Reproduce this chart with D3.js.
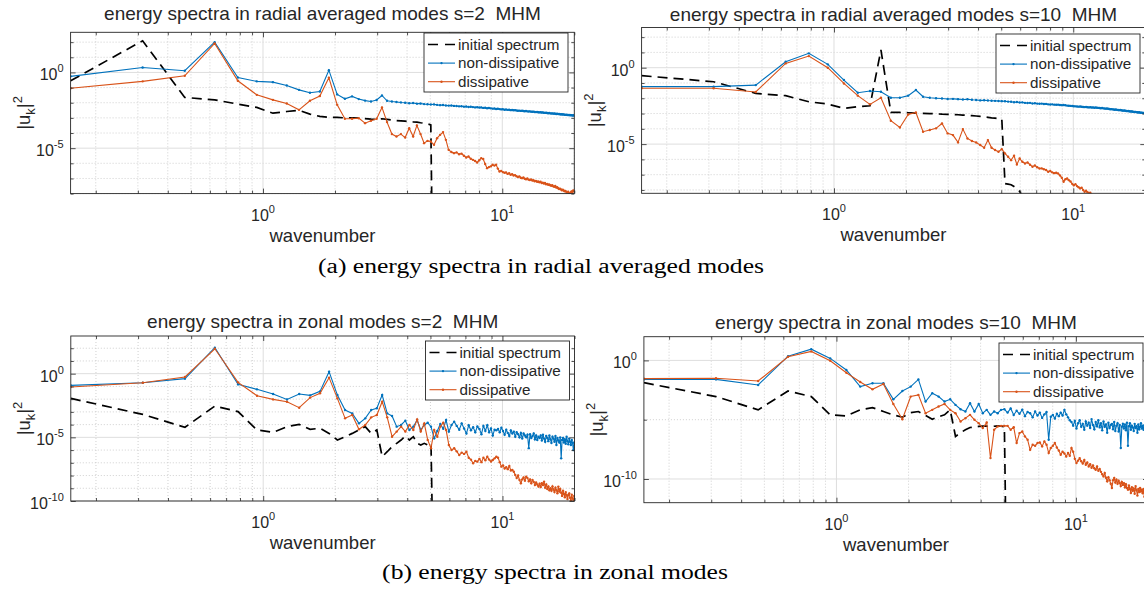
<!DOCTYPE html>
<html>
<head>
<meta charset="utf-8">
<script src="https://cdn.jsdelivr.net/npm/d3@7"></script>
<style>
  body { margin: 0; background: #fff; }
  svg { display: block; font-family: "Liberation Sans", Arial, sans-serif; }
  text { white-space: pre; }
</style>
</head>
<body>
<svg id="fig" width="1144" height="591"></svg>
<script>
// wavenumbers of the modes (same grid in all four panels)
var wavenumber = [
  0.157, 0.314, 0.471, 0.628, 0.785, 0.942, 1.100, 1.257, 1.414, 1.571,
  1.728, 1.885, 2.042, 2.199, 2.356, 2.513, 2.670, 2.827, 2.985, 3.142,
  3.299, 3.456, 3.613, 3.770, 3.927, 4.084, 4.241, 4.398, 4.555, 4.712,
  4.869, 5.027, 5.184, 5.341, 5.498, 5.655, 5.812, 5.969, 6.126, 6.283,
  6.440, 6.597, 6.754, 6.912, 7.069, 7.226, 7.383, 7.540, 7.697, 7.854,
  8.011, 8.168, 8.325, 8.482, 8.639, 8.796, 8.954, 9.111, 9.268, 9.425,
  9.582, 9.739, 9.896, 10.053, 10.210, 10.367, 10.524, 10.681, 10.838, 10.996,
  11.153, 11.310, 11.467, 11.624, 11.781, 11.938, 12.095, 12.252, 12.409, 12.566,
  12.723, 12.881, 13.038, 13.195, 13.352, 13.509, 13.666, 13.823, 13.980, 14.137,
  14.294, 14.451, 14.608, 14.765, 14.923, 15.080, 15.237, 15.394, 15.551, 15.708,
  15.865, 16.022, 16.179, 16.336, 16.493, 16.650, 16.808, 16.965, 17.122, 17.279,
  17.436, 17.593, 17.750, 17.907, 18.064, 18.221, 18.378, 18.535, 18.692, 18.850,
  19.007, 19.164, 19.321, 19.478, 19.635, 19.792, 19.949
];

// all |u_k|^2 values are stored as log10
var radialS2InitialLog = [
  -0.55, 2.09, -1.65, -1.81, -2.09, -2.31, -2.69, -2.58, -2.50, -2.75,
  -2.90, -2.97, -2.97, -3.00, -3.00, -3.02, -3.05, -3.08, -3.10, -3.06,
  -3.10, -3.15, -3.18, -3.20, -3.22, -3.25, -3.27, -3.28, -3.32, -3.35,
  -3.40, -3.46, -20
];
var radialS2NonDissLog = [
  -0.26, 0.33, 0.11, 2.00, -0.33, -0.59, -0.64, -0.86, -1.15, -1.34,
  -1.26, 0.15, -1.45, -1.74, -1.58, -1.76, -1.86, -1.92, -1.82, -1.52,
  -1.87, -1.92, -1.95, -1.98, -2.00, -2.03, -2.02, -2.06, -2.05, -2.09,
  -2.10, -2.12, -2.11, -2.14, -2.16, -2.15, -2.18, -2.19, -2.18, -2.21,
  -2.22, -2.24, -2.23, -2.26, -2.25, -2.28, -2.27, -2.29, -2.31, -2.30,
  -2.32, -2.31, -2.34, -2.33, -2.36, -2.35, -2.37, -2.39, -2.38, -2.41,
  -2.40, -2.42, -2.44, -2.43, -2.46, -2.45, -2.47, -2.46, -2.49, -2.48,
  -2.50, -2.49, -2.51, -2.53, -2.52, -2.54, -2.53, -2.55, -2.56, -2.55,
  -2.57, -2.58, -2.57, -2.59, -2.60, -2.59, -2.61, -2.62, -2.61, -2.63,
  -2.64, -2.63, -2.65, -2.64, -2.66, -2.67, -2.66, -2.68, -2.69, -2.68,
  -2.70, -2.71, -2.70, -2.72, -2.71, -2.73, -2.74, -2.73, -2.75, -2.74,
  -2.76, -2.77, -2.76, -2.78, -2.77, -2.79, -2.80, -2.79, -2.81, -2.80,
  -2.82, -2.81, -2.83, -2.82, -2.84, -2.83, -2.85
];
var radialS2DissLog = [
  -1.04, -0.59, -0.22, 1.92, -0.55, -1.48, -1.81, -2.05, -2.47, -1.87,
  -1.56, -0.35, -2.14, -3.06, -3.06, -3.02, -3.35, -3.19, -3.06, -2.31,
  -3.28, -4.07, -4.23, -4.07, -4.30, -3.68, -4.23, -3.50, -4.07, -4.67,
  -4.52, -4.56, -4.78, -4.34, -4.12, -3.94, -4.45, -5.11, -5.25, -5.33,
  -5.28, -5.40, -5.36, -5.50, -5.62, -5.55, -5.70, -5.77, -5.85, -5.95,
  -5.80, -5.66, -5.72, -6.05, -6.32, -6.25, -6.20, -6.10, -6.15, -6.10,
  -6.35, -6.54, -6.50, -6.58, -6.62, -6.60, -6.70, -6.66, -6.76, -6.72,
  -6.80, -6.78, -6.85, -6.90, -6.86, -6.95, -6.98, -6.94, -7.02, -7.05,
  -7.00, -7.08, -7.10, -7.06, -7.14, -7.12, -7.18, -7.16, -7.22, -7.20,
  -7.25, -7.22, -7.30, -7.28, -7.33, -7.30, -7.38, -7.36, -7.42, -7.40,
  -7.45, -7.48, -7.44, -7.52, -7.55, -7.50, -7.60, -7.58, -7.65, -7.70,
  -7.68, -7.72, -7.78, -7.75, -7.80, -7.85, -7.82, -7.90, -7.95, -7.88,
  -7.97, -8.02, -7.92, -7.85, -7.95, -7.80, -7.82
];

var radialS10InitialLog = [
  -0.52, -0.92, -1.68, -1.83, -2.23, -2.38, -2.66, -2.55, -2.49, 1.16,
  -2.93, -2.93, -2.95, -2.97, -2.99, -3.00, -3.02, -3.04, -3.05, -3.06,
  -3.08, -3.10, -3.12, -3.14, -3.16, -3.19, -3.22, -3.25, -3.28, -3.30,
  -3.33, -3.36, -7.58, -7.62, -7.66, -7.78, -7.90, -8.10, -8.40, -9.00
];
var radialS10NonDissLog = [
  -1.24, -1.24, -1.14, 0.39, 0.94, 0.22, -0.81, -1.64, -1.53, -1.57,
  -1.97, -1.97, -1.83, -1.46, -1.90, -1.97, -2.00, -2.02, -2.05, -2.04,
  -2.06, -2.08, -2.07, -2.10, -2.11, -2.14, -2.13, -2.15, -2.16, -2.17,
  -2.18, -2.19, -2.20, -2.22, -2.23, -2.26, -2.25, -2.28, -2.27, -2.30,
  -2.31, -2.30, -2.34, -2.33, -2.35, -2.36, -2.35, -2.38, -2.37, -2.40,
  -2.41, -2.40, -2.42, -2.43, -2.42, -2.44, -2.45, -2.44, -2.46, -2.48,
  -2.49, -2.50, -2.51, -2.52, -2.53, -2.54, -2.55, -2.54, -2.56, -2.57,
  -2.58, -2.57, -2.59, -2.60, -2.59, -2.61, -2.60, -2.62, -2.61, -2.62,
  -2.63, -2.64, -2.65, -2.64, -2.66, -2.67, -2.68, -2.67, -2.69, -2.70,
  -2.72, -2.71, -2.73, -2.74, -2.75, -2.74, -2.76, -2.77, -2.78, -2.77,
  -2.79, -2.80, -2.81, -2.80, -2.82, -2.83, -2.84, -2.83, -2.85, -2.86,
  -2.87, -2.86, -2.88, -2.89, -2.90, -2.89, -2.91, -2.92, -2.93, -2.92,
  -2.94, -2.95, -2.94, -2.96, -2.97, -2.96, -2.98
];
var radialS10DissLog = [
  -1.35, -1.35, -1.59, 0.28, 0.76, 0.00, -1.03, -1.83, -2.40, -1.97,
  -3.47, -3.91, -3.06, -2.93, -4.19, -4.08, -3.97, -3.65, -4.30, -4.41,
  -4.89, -4.02, -4.63, -4.80, -4.89, -5.06, -5.24, -4.74, -5.24, -5.39,
  -5.50, -5.33, -5.61, -5.83, -6.05, -5.76, -6.33, -5.94, -6.16, -6.27,
  -6.20, -6.35, -6.48, -6.40, -6.52, -6.60, -6.59, -6.65, -6.70, -6.81,
  -6.76, -6.85, -6.90, -6.88, -6.92, -7.05, -7.20, -7.46, -7.30, -7.25,
  -7.36, -7.45, -7.60, -7.69, -7.62, -7.75, -7.82, -7.90, -7.85, -8.00,
  -8.12, -8.05, -8.15, -8.20, -8.18, -8.30, -8.40, -8.45, -8.50, -8.55
];

var zonalS2InitialLog = [
  -1.94, -3.20, -4.21, -2.54, -2.98, -4.42, -4.61, -4.16, -3.98, -4.37,
  -4.29, -4.69, -5.21, -4.95, -4.69, -4.42, -4.16, -4.69, -4.42, -6.52,
  -6.13, -5.73, -5.47, -5.21, -4.90, -5.21, -4.95, -5.47, -5.60, -5.47,
  -5.60, -5.50, -20
];
var zonalS2NonDissLog = [
  -0.92, -0.71, -0.39, 2.04, -0.84, -1.23, -1.60, -2.02, -1.60, -1.70,
  -1.39, 0.16, -1.68, -2.85, -3.12, -3.90, -3.51, -2.85, -2.72, -1.68,
  -3.12, -3.32, -4.16, -4.03, -3.69, -4.42, -4.16, -3.64, -4.42, -4.03,
  -3.85, -4.16, -5.08, -4.50, -3.95, -4.32, -3.64, -4.55, -4.03, -3.77,
  -4.10, -4.40, -3.90, -4.30, -4.70, -4.05, -4.45, -4.20, -4.60, -4.15,
  -4.35, -4.75, -4.10, -4.50, -4.05, -4.60, -4.30, -4.85, -4.40, -4.45,
  -4.35, -4.60, -4.25, -4.50, -4.80, -4.40, -4.65, -4.90, -4.45, -4.70,
  -4.55, -4.95, -4.60, -4.75, -5.00, -4.65, -5.10, -4.70, -4.85, -5.00,
  -4.80, -5.85, -4.75, -5.05, -4.90, -4.70, -5.15, -4.85, -5.20, -4.95,
  -5.05, -4.85, -5.25, -4.80, -5.10, -5.35, -4.90, -5.05, -5.30, -4.85,
  -5.15, -5.45, -4.95, -5.10, -5.35, -4.90, -5.60, -5.05, -5.25, -5.40,
  -5.00, -6.65, -5.20, -5.05, -5.40, -5.15, -5.50, -4.95, -5.30, -5.55,
  -5.10, -5.35, -5.60, -5.20, -5.45, -6.00, -5.40
];
var zonalS2DissLog = [
  -1.05, -0.71, -0.26, 1.96, -0.68, -1.73, -2.02, -2.20, -2.67, -1.88,
  -1.54, -0.31, -1.94, -3.51, -3.25, -4.37, -4.03, -3.43, -3.25, -2.20,
  -3.43, -4.95, -4.55, -4.16, -4.55, -4.03, -4.42, -3.59, -4.55, -3.90,
  -5.20, -5.85, -4.42, -4.95, -4.16, -3.85, -4.42, -5.60, -6.00, -5.86,
  -6.10, -6.39, -6.20, -6.30, -6.13, -6.60, -6.75, -7.04, -6.85, -6.91,
  -6.70, -6.95, -6.60, -6.80, -6.52, -6.75, -6.90, -6.78, -6.65, -6.52,
  -6.60, -6.95, -7.30, -7.20, -7.45, -7.35, -7.50, -7.25, -7.60, -7.57,
  -7.70, -7.95, -8.20, -8.00, -8.35, -8.61, -8.30, -8.15, -8.40, -8.09,
  -8.20, -8.45, -8.30, -8.60, -8.35, -8.50, -8.75, -8.55, -8.70, -8.87,
  -8.65, -8.90, -8.60, -8.75, -8.48, -8.95, -8.70, -9.05, -8.85, -9.15,
  -9.00, -9.20, -8.85, -9.10, -9.30, -8.95, -9.15, -9.40, -8.87, -9.25,
  -9.05, -9.35, -9.60, -9.20, -9.45, -9.70, -9.30, -9.55, -9.85, -9.53,
  -9.40, -9.75, -9.95, -9.50, -9.80, -10.05, -9.60
];

var zonalS10InitialLog = [
  -1.88, -3.05, -4.17, -2.58, -3.05, -4.59, -4.68, -4.17, -3.98, -4.31,
  -4.60, -4.79, -4.40, -4.31, -4.65, -4.96, -4.75, -4.59, -4.17, -6.41,
  -6.10, -5.85, -5.66, -5.62, -5.57, -5.55, -5.55, -5.57, -5.55, -5.52,
  -5.55, -5.60, -25
];
var zonalS10NonDissLog = [
  -1.60, -1.60, -2.07, 0.36, 0.95, 0.17, -0.81, -2.21, -1.93, -1.93,
  -3.28, -2.58, -2.21, -1.60, -3.47, -2.77, -3.05, -3.47, -3.28, -3.75,
  -4.12, -4.31, -3.61, -4.31, -3.67, -4.45, -4.17, -4.59, -4.31, -4.45,
  -4.17, -4.12, -4.40, -4.05, -4.60, -4.25, -4.50, -4.15, -4.70, -4.35,
  -4.45, -4.80, -4.30, -4.65, -4.40, -4.85, -4.55, -4.35, -6.69, -4.75,
  -4.60, -4.90, -4.50, -4.70, -4.40, -4.65, -4.17, -4.55, -4.80, -5.05,
  -5.20, -5.50, -5.10, -5.75, -5.30, -5.05, -5.60, -5.35, -5.85, -5.15,
  -5.50, -5.25, -5.70, -4.95, -5.45, -5.80, -5.20, -5.55, -5.05, -5.65,
  -5.30, -5.90, -5.15, -5.60, -5.40, -6.10, -5.25, -5.70, -5.45, -5.35,
  -5.80, -5.20, -5.95, -5.50, -5.30, -6.00, -5.45, -7.39, -5.60, -5.35,
  -5.75, -5.40, -5.90, -5.25, -7.20, -5.55, -5.30, -5.85, -5.50, -5.65,
  -5.95, -5.35, -5.70, -5.55, -6.10, -5.40, -5.80, -5.60, -5.30, -5.75,
  -5.50, -5.85, -5.45, -5.65, -5.95, -5.40, -5.60
];
var zonalS10DissLog = [
  -1.54, -1.51, -1.74, 0.31, 0.76, -0.03, -1.04, -1.82, -2.44, -1.99,
  -3.67, -4.96, -3.05, -2.91, -4.45, -4.17, -3.89, -3.67, -4.17, -4.45,
  -5.15, -4.87, -4.59, -5.01, -5.29, -5.71, -5.24, -8.24, -5.85, -5.57,
  -5.52, -5.52, -5.52, -5.85, -5.63, -6.97, -6.13, -5.99, -6.41, -6.69,
  -7.54, -7.11, -7.20, -6.97, -6.92, -7.25, -6.83, -7.11, -7.81, -7.39,
  -7.20, -6.97, -7.35, -7.60, -7.96, -7.70, -7.85, -8.10, -7.80, -8.05,
  -7.39, -7.70, -8.30, -8.66, -8.45, -8.24, -8.50, -8.70, -8.40, -8.80,
  -8.60, -8.94, -8.75, -9.05, -8.85, -9.10, -9.22, -8.95, -9.30, -9.15,
  -9.40, -9.60, -9.78, -9.50, -9.90, -10.20, -9.85, -10.10, -10.40, -10.76,
  -10.10, -9.92, -10.30, -10.05, -10.40, -10.15, -10.34, -10.60, -10.25, -10.50,
  -10.35, -10.70, -10.45, -10.76, -10.90, -10.55, -10.85, -11.18, -10.70, -11.00,
  -10.80, -11.25, -10.60, -10.95, -11.40, -10.85, -11.10, -10.75, -11.05, -10.90,
  -11.20, -10.85, -11.50, -10.95, -11.15, -11.35, -11.00
];

var titles = [
  "energy spectra in radial averaged modes s=2  MHM",
  "energy spectra in radial averaged modes s=10  MHM",
  "energy spectra in zonal modes s=2  MHM",
  "energy spectra in zonal modes s=10  MHM"
];
var legendLabels = ["initial spectrum", "non-dissipative", "dissipative"];
var captions = ["(a) energy spectra in radial averaged modes", "(b) energy spectra in zonal modes"];
var xMajorTicks = [1, 10];
var xMinorTicks = [0.2, 0.3, 0.4, 0.5, 0.6, 0.7, 0.8, 0.9, 2, 3, 4, 5, 6, 7, 8, 9, 20];

var colors = ["#000000", "#0072bd", "#d95319"];
var axisColor = "#262626";

var panels = [
  {title: titles[0], series: [radialS2InitialLog, radialS2NonDissLog, radialS2DissLog],
   left: 70.6, right: 574.3, top: 32.3, bottom: 193.6, yMin: -8, yMax: 2.65,
   yMajor: [0, -5], yMinor: [2, 1, -1, -2, -3, -4, -6, -7, -8],
   legendX: 424, legendY: 33, titleY: 19.5},
  {title: titles[1], series: [radialS10InitialLog, radialS10NonDissLog, radialS10DissLog],
   left: 641.6, right: 1145.3, top: 27.5, bottom: 193.3, yMin: -8.22, yMax: 2.63,
   yMajor: [0, -5], yMinor: [2, 1, -1, -2, -3, -4, -6, -7, -8],
   legendX: 996, legendY: 34, titleY: 20.5},
  {title: titles[2], series: [zonalS2InitialLog, zonalS2NonDissLog, zonalS2DissLog],
   left: 70.8, right: 574.5, top: 336, bottom: 501, yMin: -10, yMax: 2.96,
   yMajor: [0, -5, -10], yMinor: [2, 1, -1, -2, -3, -4, -6, -7, -8, -9],
   legendX: 425.5, legendY: 341, titleY: 328.3},
  {title: titles[3], series: [zonalS10InitialLog, zonalS10NonDissLog, zonalS10DissLog],
   left: 643.9, right: 1148, top: 336.7, bottom: 502.7, yMin: -12, yMax: 2,
   yMajor: [0, -10], yMinor: [-5],
   legendX: 999, legendY: 343, titleY: 329.3}
];

var svg = d3.select("#fig");

function addText(parent, x, y, size) {
  return parent.append("text")
    .attr("x", x).attr("y", y)
    .attr("font-size", size)
    .attr("fill", axisColor);
}

function powerLabel(t, e) {
  t.append("tspan").text("10");
  t.append("tspan").attr("dy", -8).attr("font-size", 11).text(String(e));
}

var drawPanel = function (p, idx) {
  var x = d3.scaleLog().domain([wavenumber[0], 20]).range([p.left, p.right]);
  var y = d3.scaleLog().domain([Math.pow(10, p.yMin), Math.pow(10, p.yMax)]).range([p.bottom, p.top]);
  var w = p.right - p.left, h = p.bottom - p.top;

  var g = svg.append("g").attr("class", "panel");

  g.append("clipPath").attr("id", "clip" + idx)
    .append("rect").attr("x", p.left).attr("y", p.top).attr("width", w).attr("height", h);

  // minor grid (dotted)
  g.selectAll(".xminor").data(xMinorTicks).enter().append("line")
    .attr("x1", function (d) { return x(d); }).attr("x2", function (d) { return x(d); })
    .attr("y1", p.top).attr("y2", p.bottom)
    .attr("stroke", "#c4c4c4").attr("stroke-width", 0.8).attr("stroke-dasharray", "1,2");
  g.selectAll(".yminor").data(p.yMinor).enter().append("line")
    .attr("x1", p.left).attr("x2", p.right)
    .attr("y1", function (d) { return y(Math.pow(10, d)); }).attr("y2", function (d) { return y(Math.pow(10, d)); })
    .attr("stroke", "#c4c4c4").attr("stroke-width", 0.8).attr("stroke-dasharray", "1,2");

  // major grid
  g.selectAll(".xmajor").data(xMajorTicks).enter().append("line")
    .attr("x1", function (d) { return x(d); }).attr("x2", function (d) { return x(d); })
    .attr("y1", p.top).attr("y2", p.bottom)
    .attr("stroke", "#dedede").attr("stroke-width", 1);
  g.selectAll(".ymajor").data(p.yMajor).enter().append("line")
    .attr("x1", p.left).attr("x2", p.right)
    .attr("y1", function (d) { return y(Math.pow(10, d)); }).attr("y2", function (d) { return y(Math.pow(10, d)); })
    .attr("stroke", "#dedede").attr("stroke-width", 1);

  // data
  var line = d3.line()
    .x(function (d) { return x(d.k); })
    .y(function (d) { return y(d.v); });

  var plot = g.append("g").attr("clip-path", "url(#clip" + idx + ")");
  p.series.forEach(function (vals, s) {
    var pts = vals.map(function (v, i) { return {k: wavenumber[i], v: Math.pow(10, v)}; });
    var path = plot.append("path").datum(pts)
      .attr("d", line)
      .attr("fill", "none")
      .attr("stroke", colors[s]);
    if (s == 0) {
      path.attr("stroke-width", 1.7).attr("stroke-dasharray", "10,6");
    } else {
      path.attr("stroke-width", 1.1);
      plot.append("g").selectAll("circle").data(pts).enter().append("circle")
        .attr("cx", function (d) { return x(d.k); })
        .attr("cy", function (d) { return y(d.v); })
        .attr("r", 1.2)
        .attr("fill", colors[s]);
    }
  });

  // axes: ticks inside on all four sides
  function styleAxis(a) {
    a.select(".domain").remove();
    a.selectAll("line").attr("stroke", axisColor).attr("stroke-width", 0.8);
    a.selectAll("text").remove();
  }
  var blank = function () { return ""; };
  g.append("g").attr("transform", "translate(0," + p.bottom + ")")
    .call(d3.axisBottom(x).tickValues(xMajorTicks).tickSizeInner(-5).tickSizeOuter(0).tickFormat(blank)).call(styleAxis);
  g.append("g").attr("transform", "translate(0," + p.bottom + ")")
    .call(d3.axisBottom(x).tickValues(xMinorTicks).tickSizeInner(-3).tickSizeOuter(0).tickFormat(blank)).call(styleAxis);
  g.append("g").attr("transform", "translate(0," + p.top + ")")
    .call(d3.axisTop(x).tickValues(xMajorTicks).tickSizeInner(-5).tickSizeOuter(0).tickFormat(blank)).call(styleAxis);
  g.append("g").attr("transform", "translate(0," + p.top + ")")
    .call(d3.axisTop(x).tickValues(xMinorTicks).tickSizeInner(-3).tickSizeOuter(0).tickFormat(blank)).call(styleAxis);

  var yMajorVals = p.yMajor.map(function (e) { return Math.pow(10, e); });
  var yMinorVals = p.yMinor.map(function (e) { return Math.pow(10, e); });
  g.append("g").attr("transform", "translate(" + p.left + ",0)")
    .call(d3.axisLeft(y).tickValues(yMajorVals).tickSizeInner(-5).tickSizeOuter(0).tickFormat(blank)).call(styleAxis);
  g.append("g").attr("transform", "translate(" + p.left + ",0)")
    .call(d3.axisLeft(y).tickValues(yMinorVals).tickSizeInner(-3).tickSizeOuter(0).tickFormat(blank)).call(styleAxis);
  g.append("g").attr("transform", "translate(" + p.right + ",0)")
    .call(d3.axisRight(y).tickValues(yMajorVals).tickSizeInner(-5).tickSizeOuter(0).tickFormat(blank)).call(styleAxis);
  g.append("g").attr("transform", "translate(" + p.right + ",0)")
    .call(d3.axisRight(y).tickValues(yMinorVals).tickSizeInner(-3).tickSizeOuter(0).tickFormat(blank)).call(styleAxis);

  g.append("rect")
    .attr("x", p.left).attr("y", p.top).attr("width", w).attr("height", h)
    .attr("fill", "none").attr("stroke", axisColor).attr("stroke-width", 0.9);

  // tick labels
  xMajorTicks.forEach(function (t) {
    var txt = addText(g, x(t), p.bottom + 27, 16).attr("text-anchor", "middle");
    powerLabel(txt, Math.round(Math.log10(t)));
  });
  p.yMajor.forEach(function (e) {
    var txt = addText(g, p.left - 7, y(Math.pow(10, e)) + 8, 16).attr("text-anchor", "end");
    powerLabel(txt, e);
  });

  // title and axis labels
  addText(g, (p.left + p.right) / 2, p.titleY, 19).attr("text-anchor", "middle").text(p.title);
  addText(g, (p.left + p.right) / 2, p.bottom + 48, 18.5).attr("text-anchor", "middle").text("wavenumber");

  var yl = g.append("text")
    .attr("transform", "translate(" + (p.left - 41) + "," + ((p.top + p.bottom) / 2) + ") rotate(-90)")
    .attr("font-size", 18.5).attr("fill", axisColor).attr("text-anchor", "middle");
  yl.append("tspan").text("|u");
  yl.append("tspan").attr("font-size", 13).attr("dy", 5).text("k");
  yl.append("tspan").attr("dy", -5).text("|");
  yl.append("tspan").attr("font-size", 13).attr("dy", -8).text("2");

  // legend
  var lg = g.append("g").attr("transform", "translate(" + p.legendX + "," + p.legendY + ")");
  lg.append("rect").attr("width", 144).attr("height", 59)
    .attr("fill", "#fff").attr("stroke", axisColor).attr("stroke-width", 0.9);
  legendLabels.forEach(function (lab, s) {
    var ry = 11.5 + s * 18.6;
    var ln = lg.append("line").attr("x1", 4).attr("x2", 31).attr("y1", ry).attr("y2", ry)
      .attr("stroke", colors[s]);
    if (s == 0) {
      ln.attr("stroke-width", 1.7).attr("stroke-dasharray", "10,7");
    } else {
      ln.attr("stroke-width", 1.1);
      lg.append("circle").attr("cx", 17.5).attr("cy", ry).attr("r", 1.2).attr("fill", colors[s]);
    }
    addText(lg, 34, ry + 5.3, 15.2).text(lab);
  });
};

panels.forEach(drawPanel);

// sub-figure captions
var capX = [541, 555], capY = [273, 579];
captions.forEach(function (c, i) {
  svg.append("text")
    .attr("transform", "translate(" + capX[i] + "," + capY[i] + ") scale(1.25,1)")
    .attr("font-family", "'Liberation Serif', 'Times New Roman', serif")
    .attr("font-size", 20.5)
    .attr("text-anchor", "middle")
    .attr("fill", "#000")
    .text(c);
});
</script>
</body>
</html>
